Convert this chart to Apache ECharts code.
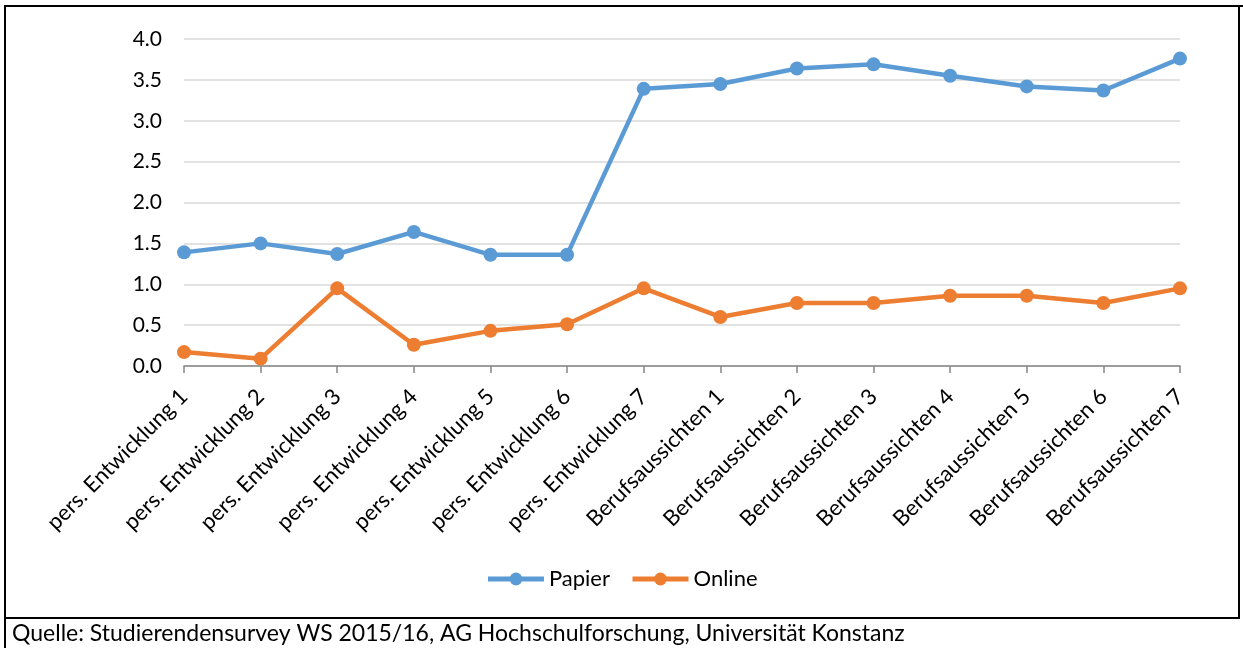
<!DOCTYPE html>
<html>
<head>
<meta charset="utf-8">
<script src="https://cdn.jsdelivr.net/npm/echarts@6/dist/echarts.min.js"></script>
<style>
html,body{margin:0;padding:0;background:#fff;}
#chart{width:1243px;height:648px;}
</style>
</head>
<body>
<div id="chart"></div>
<script>
const categories = [
  'pers. Entwicklung 1','pers. Entwicklung 2','pers. Entwicklung 3','pers. Entwicklung 4',
  'pers. Entwicklung 5','pers. Entwicklung 6','pers. Entwicklung 7',
  'Berufsaussichten 1','Berufsaussichten 2','Berufsaussichten 3','Berufsaussichten 4',
  'Berufsaussichten 5','Berufsaussichten 6','Berufsaussichten 7'
];
const papier = [1.39, 1.50, 1.37, 1.64, 1.36, 1.36, 3.39, 3.45, 3.64, 3.69, 3.55, 3.42, 3.37, 3.76];
const online = [0.17, 0.09, 0.95, 0.26, 0.43, 0.51, 0.95, 0.60, 0.77, 0.77, 0.86, 0.86, 0.77, 0.95];
const seriesNames = ['Papier', 'Online'];
const sourceText = 'Quelle: Studierendensurvey WS 2015/16, AG Hochschulforschung, Universität Konstanz';

const FONT = 'Lato, "Open Sans", sans-serif';
const chart = echarts.init(document.getElementById('chart'), null, {renderer: 'canvas'});
chart.setOption({
  backgroundColor: '#fff',
  animation: false,
  textStyle: {fontFamily: FONT},
  grid: {left: 184, right: 63, top: 39, bottom: 282, containLabel: false},
  legend: {
    data: seriesNames,
    top: 563,
    left: 'center',
    itemWidth: 56,
    itemHeight: 16,
    itemGap: 20,
    lineStyle: {width: 5},
    textStyle: {fontSize: 22, color: '#000', fontFamily: FONT}
  },
  xAxis: {
    type: 'category',
    data: categories,
    boundaryGap: false,
    axisLine: {lineStyle: {color: '#868686', width: 1.5}},
    axisTick: {show: true, alignWithLabel: true, length: 7, lineStyle: {color: '#868686', width: 1.5}},
    axisLabel: {rotate: 45, fontSize: 22, color: '#000', margin: 27, interval: 0, fontFamily: FONT},
    splitLine: {show: false}
  },
  yAxis: {
    type: 'value',
    min: 0, max: 4, interval: 0.5,
    axisLine: {show: false},
    axisTick: {show: false},
    axisLabel: {fontSize: 21, color: '#000', margin: 22, formatter: v => v.toFixed(1), fontFamily: FONT},
    splitLine: {lineStyle: {color: '#d9d9d9', width: 1.5}}
  },
  series: [
    {
      name: seriesNames[0], type: 'line', data: papier,
      symbol: 'circle', symbolSize: 14,
      lineStyle: {color: '#5B9BD5', width: 4.5},
      itemStyle: {color: '#5B9BD5'}
    },
    {
      name: seriesNames[1], type: 'line', data: online,
      symbol: 'circle', symbolSize: 14,
      lineStyle: {color: '#ED7D31', width: 4.5},
      itemStyle: {color: '#ED7D31'}
    }
  ],
  graphic: [
    {type: 'line', shape: {x1: 4, y1: 6, x2: 1243, y2: 6}, style: {stroke: '#000', lineWidth: 2}},
    {type: 'line', shape: {x1: 5, y1: 6, x2: 5, y2: 648}, style: {stroke: '#000', lineWidth: 2}},
    {type: 'line', shape: {x1: 1239, y1: 6, x2: 1239, y2: 618}, style: {stroke: '#000', lineWidth: 2}},
    {type: 'line', shape: {x1: 4, y1: 618, x2: 1240, y2: 618}, style: {stroke: '#000', lineWidth: 2}},
    {type: 'text', left: 12, top: 622, style: {text: sourceText, fontSize: 23, fill: '#000', fontFamily: FONT}}
  ]
});
</script>
</body>
</html>
